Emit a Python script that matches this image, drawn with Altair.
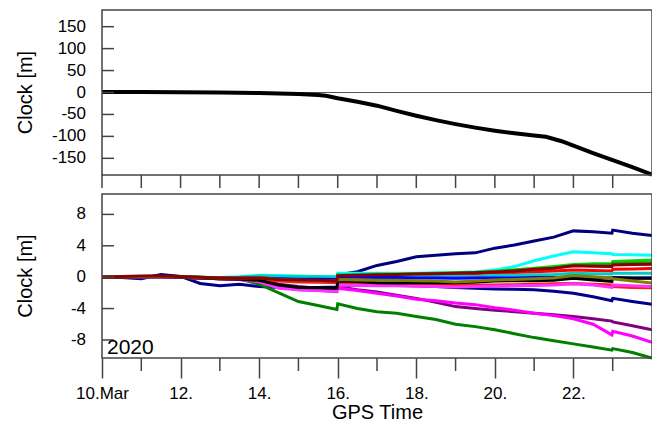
import altair as alt
import pandas as pd

# ---------------- data ----------------
days_top = [10, 11, 12, 13, 14, 14.5, 15, 15.5, 15.7, 16, 16.5, 17, 17.5, 18, 18.5,
            19, 19.5, 20, 20.5, 21, 21.3, 21.7, 22, 22.5, 23, 23.5, 24]
clock_top = [1, 1, 0.5, 0, -1, -2, -3.5, -5.5, -7.5, -13, -21, -30, -42, -53, -63,
             -72, -80, -87, -93, -98, -101, -111, -121, -138, -154, -170, -187]

days = [10, 10.5, 11, 11.5, 12, 12.5, 13, 13.5, 14, 14.5, 15, 15.5, 15.98, 16, 16.5,
        17, 17.5, 18, 18.5, 19, 19.5, 20, 20.5, 21, 21.5, 22, 22.5, 22.98, 23, 23.5, 24]

navy_up = [0, 0.05, 0.1, 0.15, 0.1, 0, -0.1, -0.15, -0.1, -0.3, -0.4, -0.3, -0.2, 0.3, 0.7,
           1.5, 2.0, 2.6, 2.8, 3.0, 3.1, 3.7, 4.1, 4.6, 5.1, 5.9, 5.8, 5.6, 6.0, 5.6, 5.3]
navy_down = [0, -0.05, -0.2, 0.35, 0.1, -0.8, -1.1, -0.9, -1.2, -1.3, -1.4, -1.3, -1.25, -1.1, -1.0,
             -1.0, -1.05, -1.1, -1.2, -1.3, -1.4, -1.5, -1.55, -1.6, -1.8, -2.05, -2.5, -3.0, -2.7, -3.1, -3.45]
green_down = [0, 0.05, 0.1, 0.1, 0.05, -0.1, -0.2, -0.2, -0.9, -2.0, -3.1, -3.6, -4.1, -3.4, -4.0,
              -4.4, -4.6, -5.0, -5.4, -6.0, -6.3, -6.7, -7.2, -7.7, -8.1, -8.5, -8.9, -9.3, -9.1, -9.6, -10.3]
purple = [0, 0.05, 0.1, 0.1, 0.0, -0.1, -0.2, -0.3, -0.4, -0.9, -1.2, -1.4, -1.6, -1.2, -1.6,
          -1.9, -2.3, -2.7, -3.2, -3.75, -4.0, -4.2, -4.4, -4.6, -4.8, -5.0, -5.3, -5.6, -5.7, -6.2, -6.7]
magenta_down = [0, 0.05, 0.1, 0.1, 0.0, -0.1, -0.2, -0.3, -0.5, -1.2, -1.6, -1.7, -1.85, -1.4, -1.7,
                -2.05, -2.4, -2.8, -3.0, -3.3, -3.5, -3.9, -4.2, -4.6, -4.9, -5.3, -6.0, -7.35, -6.9, -7.5, -8.3]
cyan = [0, 0, 0.05, 0.1, 0.05, 0, -0.05, 0.05, 0.25, 0.2, 0.15, 0.1, 0.05, 0.5, 0.5,
        0.5, 0.5, 0.5, 0.55, 0.6, 0.7, 0.9, 1.35, 2.1, 2.7, 3.25, 3.1, 3.0, 2.9, 2.85, 2.8]
lime = [0, 0.05, 0.1, 0.1, 0.05, 0, -0.1, -0.05, 0.1, 0.1, 0.05, 0.0, 0.0, 0.3, 0.35,
        0.4, 0.4, 0.45, 0.5, 0.55, 0.6, 0.75, 0.95, 1.15, 1.35, 1.6, 1.7, 1.75, 2.0, 2.1, 2.2]
green_up = [0, 0.05, 0.05, 0.1, 0.05, -0.05, -0.1, -0.1, 0.0, -0.1, -0.15, -0.15, -0.2, 0.2, 0.25,
            0.3, 0.35, 0.4, 0.45, 0.5, 0.6, 0.7, 0.85, 1.0, 1.2, 1.5, 1.55, 1.6, 1.75, 1.8, 1.85]
darkred = [0, 0.1, 0.15, 0.15, 0.1, 0, -0.1, -0.15, -0.1, -0.3, -0.35, -0.4, -0.5, 0.2, 0.25,
           0.3, 0.35, 0.4, 0.45, 0.5, 0.55, 0.65, 0.8, 1.0, 1.15, 1.45, 1.4, 1.35, 1.55, 1.6, 1.65]
red_up = [0, 0, 0.05, 0.1, 0, -0.1, -0.15, -0.2, -0.2, -0.25, -0.3, -0.3, -0.3, 0.1, 0.15,
          0.2, 0.25, 0.3, 0.35, 0.4, 0.45, 0.55, 0.6, 0.7, 0.8, 0.9, 0.85, 0.8, 1.0, 1.05, 1.1]
teal = [0, 0, 0.05, 0.05, 0, -0.05, -0.1, 0, 0.15, 0.1, 0.05, 0.05, 0.0, 0.25, 0.3,
        0.3, 0.25, 0.2, 0.2, 0.15, 0.1, 0.2, 0.25, 0.3, 0.35, 0.5, 0.45, 0.4, 0.5, 0.5, 0.5]
black = [0, 0, 0.05, 0.1, 0, -0.1, -0.2, -0.25, -0.4, -1.0, -1.3, -1.35, -1.4, -0.5, -0.55,
         -0.7, -0.75, -0.7, -0.7, -0.7, -0.6, -0.5, -0.45, -0.45, -0.4, -0.15, -0.35, -0.55, -0.1, -0.15, -0.15]
blue = [0, 0, 0.05, 0.05, 0, -0.05, -0.1, -0.1, -0.1, -0.2, -0.25, -0.25, -0.3, 0.0, 0.0,
        -0.05, -0.05, -0.1, -0.1, -0.15, -0.1, -0.1, -0.1, -0.05, -0.05, 0.0, -0.05, -0.1, -0.05, -0.1, -0.1]
olive = [0, 0.05, 0.1, 0.1, 0.05, -0.05, -0.1, -0.1, -0.05, -0.3, -0.4, -0.45, -0.5, -0.3, -0.35,
         -0.4, -0.4, -0.45, -0.5, -0.6, -0.5, -0.35, -0.3, -0.2, -0.1, 0.2, 0.05, -0.1, -0.2, -0.5, -0.75]
red_down = [0, 0, 0.05, 0.05, 0, -0.1, -0.15, -0.2, -0.3, -0.5, -0.6, -0.65, -0.7, -0.8, -0.85,
            -0.9, -0.9, -0.9, -0.95, -1.0, -1.0, -1.0, -0.95, -0.9, -0.85, -0.8, -0.9, -1.0, -1.2, -1.3, -1.35]
magenta_flat = [0, 0, 0.05, 0.05, 0, -0.1, -0.2, -0.3, -0.6, -1.4, -1.6, -1.7, -1.8, -1.0, -1.05,
                -1.1, -1.1, -1.15, -1.2, -1.25, -1.2, -1.15, -1.1, -1.05, -1.0, -0.85, -1.0, -1.3, -1.0, -1.1, -1.2]

series_names = ["navy_up", "navy_down", "green_down", "purple", "magenta_down", "cyan", "lime",
                "green_up", "red_up", "teal", "blue", "red_down", "magenta_flat", "black",
                "olive", "darkred"]
series_values = [navy_up, navy_down, green_down, purple, magenta_down, cyan, lime,
                 green_up, red_up, teal, blue, red_down, magenta_flat, black, olive, darkred]
series_colors = ["#00007F", "#00008B", "#008000", "#800080", "#FF00FF", "#00FFFF", "#00E000",
                 "#1A9A1A", "#FF0000", "#00CCCC", "#0000FF", "#FF1A1A", "#FF33FF", "#000000",
                 "#808000", "#8B0000"]

yticks_top = [-150, -100, -50, 0, 50, 100, 150]
yticks_bot = [-8, -4, 0, 4, 8]
xticks_all = list(range(10, 24))
xticks_major = [10, 12, 14, 16, 18, 20, 22]
xticks_minor = [11, 13, 15, 17, 19, 21, 23]
y_title = ["Clock [m]"]
x_title = "GPS Time"
year_label = ["2020"]

# ---------------- tables ----------------
df_top = pd.DataFrame({"day": days_top, "ct": clock_top})
rows = []
for name, vals in zip(series_names, series_values):
    for d, v in zip(days, vals):
        rows.append({"series": name, "day": d, "cb": v})
df_bot = pd.DataFrame(rows)
df_zero_t = pd.DataFrame({"ct": [0]})
df_zero_b = pd.DataFrame({"cb": [0]})
df_yt_top = pd.DataFrame({"ct": yticks_top, "lab": [str(v) for v in yticks_top]})
df_yt_bot = pd.DataFrame({"cb": yticks_bot, "lab": [str(v) for v in yticks_bot]})
df_xall = pd.DataFrame({"day": xticks_all})
df_xminor = pd.DataFrame({"day": xticks_minor})
df_one = pd.DataFrame({"t": y_title})
df_year = pd.DataFrame({"t": year_label})

FONT = "Liberation Sans"
W, H = 550, 348          # plot area covering both panels
TOP_H = 165              # top panel: 0..165
BOT_Y0, BOT_Y1 = 184, 348  # bottom panel
FRAME = "#444444"

xscale = alt.Scale(domain=[10, 24], nice=False, zero=False)
xaxis = alt.Axis(values=xticks_major, title=x_title, grid=False, domain=False,
                 tickSize=20, tickColor=FRAME, tickWidth=1.5,
                 labelExpr="datum.value == 10 ? '10.Mar' : datum.value + '.'",
                 labelFlush=False, labelOverlap=False, labelBaseline="alphabetic",
                 labelPadding=20, labelFont=FONT, labelFontSize=17, labelColor="black",
                 titleFont=FONT, titleFontSize=20, titleFontWeight="normal", titleColor="black",
                 titleBaseline="alphabetic", titleY=60)
X = alt.X("day:Q", scale=xscale, axis=xaxis)

# ---------------- top panel ----------------
ys_top = alt.Scale(domain=[-188, 188], range=[TOP_H, 0], nice=False, zero=False)
Yt = alt.Y("ct:Q", scale=ys_top, axis=None)

top_zero = alt.Chart(df_zero_t).mark_rule(color="#555555", strokeWidth=1).encode(
    y=Yt, x=alt.value(0), x2=alt.value(W))
top_line = alt.Chart(df_top).mark_line(color="black", strokeWidth=4).encode(x=X, y=Yt)
top_yticks = alt.Chart(df_yt_top).mark_rule(color=FRAME, strokeWidth=1.5).encode(
    y=Yt, x=alt.value(0), x2=alt.value(12))
top_ylabels = alt.Chart(df_yt_top).mark_text(align="right", baseline="middle", font=FONT,
                                             fontSize=17, color="black").encode(
    y=Yt, x=alt.value(-16), text="lab:N")
top_xticks = alt.Chart(df_xall).mark_rule(color=FRAME, strokeWidth=1.5).encode(
    x=X, y=alt.value(TOP_H), y2=alt.value(TOP_H + 13))
top_title = alt.Chart(df_one).mark_text(angle=270, align="center", baseline="middle",
                                        font=FONT, fontSize=20, color="black").encode(
    text="t:N", x=alt.value(-76), y=alt.value(TOP_H / 2))
top_frame = alt.Chart(df_one).mark_rect(fillOpacity=0, stroke=FRAME, strokeWidth=1.5).encode(
    x=alt.value(0), x2=alt.value(W), y=alt.value(0), y2=alt.value(TOP_H))
top = alt.layer(top_zero, top_line, top_yticks, top_ylabels, top_xticks, top_title, top_frame)

# ---------------- bottom panel ----------------
ys_bot = alt.Scale(domain=[-10.3, 10.6], range=[BOT_Y1, BOT_Y0], nice=False, zero=False)
Yb = alt.Y("cb:Q", scale=ys_bot, axis=None)

bot_zero = alt.Chart(df_zero_b).mark_rule(color="#555555", strokeWidth=1).encode(
    y=Yb, x=alt.value(0), x2=alt.value(W))
bot_lines = alt.Chart(df_bot).mark_line(strokeWidth=3).encode(
    x=X, y=Yb,
    color=alt.Color("series:N", scale=alt.Scale(domain=series_names, range=series_colors),
                    legend=None),
)
bot_yticks = alt.Chart(df_yt_bot).mark_rule(color=FRAME, strokeWidth=1.5).encode(
    y=Yb, x=alt.value(0), x2=alt.value(12))
bot_ylabels = alt.Chart(df_yt_bot).mark_text(align="right", baseline="middle", font=FONT,
                                             fontSize=17, color="black").encode(
    y=Yb, x=alt.value(-16), text="lab:N")
bot_xminor = alt.Chart(df_xminor).mark_rule(color=FRAME, strokeWidth=1.5).encode(
    x=X, y=alt.value(BOT_Y1), y2=alt.value(BOT_Y1 + 13))
bot_title = alt.Chart(df_one).mark_text(angle=270, align="center", baseline="middle",
                                        font=FONT, fontSize=20, color="black").encode(
    text="t:N", x=alt.value(-76), y=alt.value((BOT_Y0 + BOT_Y1) / 2))
year = alt.Chart(df_year).mark_text(align="left", baseline="alphabetic", fontSize=21,
                                    font=FONT, color="black").encode(
    text="t:N", x=alt.value(5), y=alt.value(BOT_Y1 - 4))
bot_frame = alt.Chart(df_one).mark_rect(fillOpacity=0, stroke=FRAME, strokeWidth=1.5).encode(
    x=alt.value(0), x2=alt.value(W), y=alt.value(BOT_Y0), y2=alt.value(BOT_Y1))
bottom = alt.layer(bot_zero, bot_lines, bot_yticks, bot_ylabels, bot_xminor, bot_title,
                   year, bot_frame)

chart = alt.layer(top, bottom).resolve_scale(y="independent").properties(
    width=W, height=H,
    autosize=alt.AutoSizeParams(type="none"),
    padding={"left": 94, "top": 2, "right": 0, "bottom": 64},
).configure_view(stroke=None)

chart.save("out.html", embed_options={"renderer": "svg", "actions": False})
